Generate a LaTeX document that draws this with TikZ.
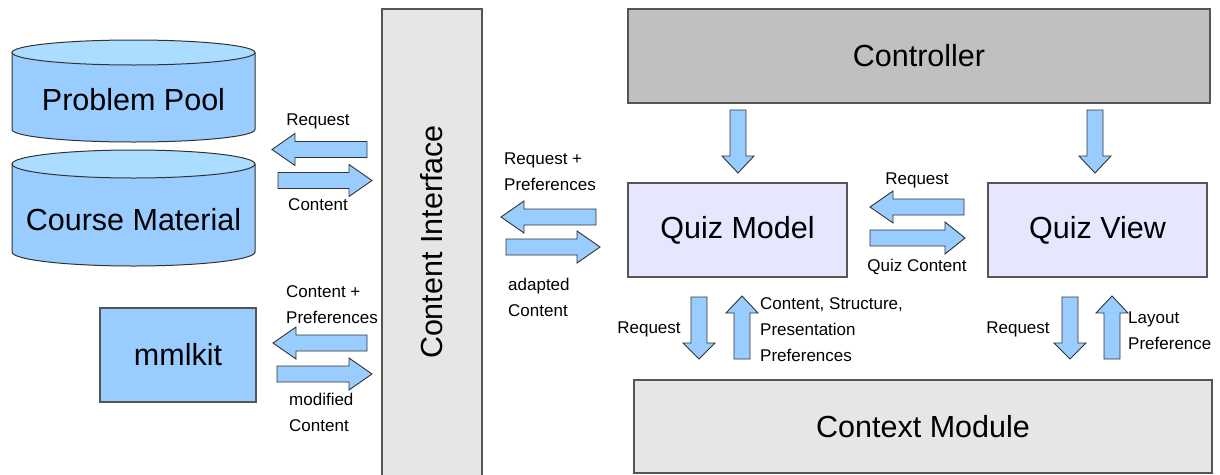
\documentclass[tikz,border=0pt]{standalone}
\usepackage{fontspec}
\setmainfont{Liberation Sans}
\definecolor{dbblue}{HTML}{99CCFF}
\definecolor{dbtop}{HTML}{AADDFF}
\definecolor{modelfill}{HTML}{E6E6FF}
\definecolor{panelgray}{HTML}{E6E6E6}
\definecolor{ctrlgray}{HTML}{C0C0C0}
\definecolor{edgegray}{HTML}{555555}
\begin{document}
\begin{tikzpicture}[x=1pt,y=-1pt,
  bigtext/.style={font=\fontsize{30.5}{36}\selectfont},
  box/.style={draw=edgegray, line width=1.3pt, inner sep=0pt, bigtext},
  lbl/.style={inner sep=0pt, font=\fontsize{17}{26}\selectfont, align=left},
  blockarrow/.style={draw=black!80, line width=0.9pt, fill=dbblue, line join=miter},
  dbstyle/.style={draw=black!80, line width=1pt},
  pics/barrow/.style 2 args={code={%
    \draw[blockarrow] (0,-8) -- ({#1-#2},-8) -- ({#1-#2},-16) -- (#1,0)
      -- ({#1-#2},16) -- ({#1-#2},8) -- (0,8) -- cycle;}}
]
\fill[white] (0,0) rectangle (1220,474);
\useasboundingbox (0,0) rectangle (1220,474);

% ---- data sources (cylinders)
\draw[dbstyle, fill=dbblue] (12,52.5) -- (12,129.5)
  arc[start angle=180, end angle=0, x radius=121.5, y radius=12.5] -- (255,52.5);
\draw[dbstyle, fill=dbtop] (133.5,52.5) ellipse [x radius=121.5, y radius=12.5];
\node[bigtext, inner sep=0pt] (pool) at (133.5,100) {Problem Pool};

\draw[dbstyle, fill=dbblue] (12,164) -- (12,252)
  arc[start angle=180, end angle=0, x radius=121.5, y radius=14] -- (255,164);
\draw[dbstyle, fill=dbtop] (133.5,164) ellipse [x radius=121.5, y radius=14];
\node[bigtext, inner sep=0pt] (course) at (133.5,220) {Course Material};

% ---- boxes
\node[box, fill=dbblue, minimum width=156, minimum height=94] (mml) at (178,355) {mmlkit};
\node[box, fill=panelgray, minimum width=100, minimum height=481] (ci) at (432,249.5) {};
\node[bigtext, rotate=90, inner sep=0pt] (ciLabel) at (432,242) {Content Interface};
\node[box, fill=ctrlgray, minimum width=582, minimum height=94] (ctrl) at (919,56) {Controller};
\node[box, fill=modelfill, minimum width=219, minimum height=94] (model) at (737.5,230) {Quiz Model};
\node[box, fill=modelfill, minimum width=219, minimum height=94] (view) at (1097.5,230) {Quiz View};
\node[box, fill=panelgray, minimum width=578, minimum height=93] (ctx) at (923,426.5) {Context Module};

% ---- block arrows
\pic[rotate=180] at (367,149.5) {barrow={95}{23}};
\pic at (278,180.5) {barrow={94}{23}};
\pic[rotate=180] at (367,343) {barrow={94}{23}};
\pic at (277,374) {barrow={95}{23}};
\pic[rotate=180] at (596,217) {barrow={95}{23}};
\pic at (506,247) {barrow={94}{23}};
\pic[rotate=180] at (964,207) {barrow={94}{23}};
\pic at (870,238) {barrow={95}{20}};
\pic[rotate=-90] at (738,110) {barrow={63}{17}};
\pic[rotate=-90] at (1095,110) {barrow={63}{17}};
\pic[rotate=-90] at (699,297) {barrow={62}{16}};
\pic[rotate=90] at (742,359) {barrow={63}{17}};
\pic[rotate=-90] at (1070,297) {barrow={62}{16}};
\pic[rotate=90] at (1112,359) {barrow={63}{17}};

% ---- labels
\node[lbl] (lReq1) at (318,121) {Request};
\node[lbl] (lCon1) at (318,205) {Content};
\node[lbl, anchor=west] (lCP) at (286,305) {Content +\\Preferences};
\node[lbl, anchor=west] (lMod) at (289,412.5) {modified\\Content};
\node[lbl, anchor=west] (lRP) at (504,171.5) {Request +\\Preferences};
\node[lbl, anchor=west] (lAd) at (508,297) {adapted\\Content};
\node[lbl] (lReq2) at (917,180) {Request};
\node[lbl] (lQC) at (917,267) {Quiz Content};
\node[lbl] (lReq3) at (649,329) {Request};
\node[lbl, anchor=west] (lCSP) at (760,330) {Content, Structure,\\Presentation\\Preferences};
\node[lbl] (lReq4) at (1018,329) {Request};
\node[lbl, anchor=west] (lLay) at (1128,330.5) {Layout\\Preference};
\end{tikzpicture}
\end{document}
